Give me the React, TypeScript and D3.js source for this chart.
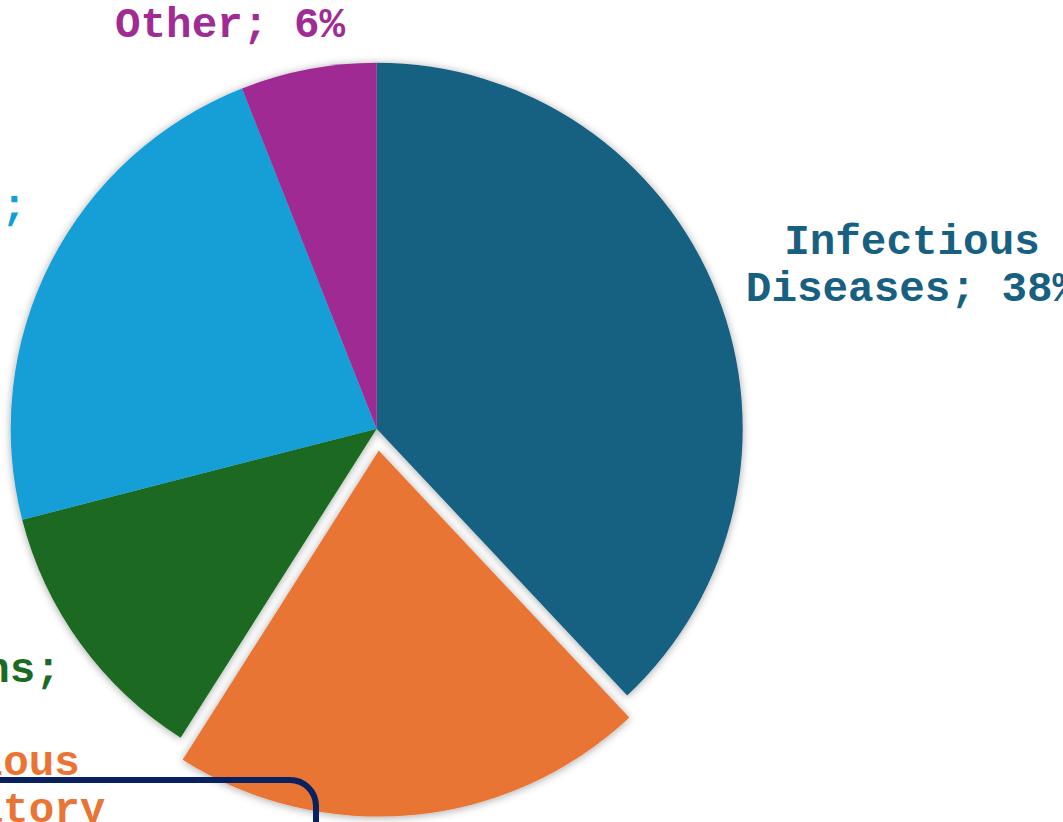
import React from "react";
import * as d3 from "d3";

const categories = ["Infectious Diseases", "Contagious Inflammatory", "Chronic Conditions", "Cardiovascular Diseases", "Other"];
const values = [38, 21, 12, 23, 6];
const colors = ["#176082", "#E97434", "#1B6B24", "#129FD6", "#A02C93"];
const labelLines = [
  ["Infectious", "Diseases; 38%"],
  ["Contagious", "Inflammatory", "Disease; 21%"],
  ["Chronic Conditions;", "12%"],
  ["Cardiovascular Diseases;", "23%"],
  ["Other; 6%"],
];
const explodedIndex = 1;

// label anchor layout (center x, first baseline y)
const labelPos = [
  [912, 254],
  [-48, 775],
  [-182, 682],
  [-280, 219],
  [230, 37],
];

export default function App() {
  const W = 1063, H = 822;
  const cx = 376.7, cy = 428.7, R = 366;
  const pie = d3.pie<number>().sort(null).startAngle(0).endAngle(2 * Math.PI);
  const arcs = pie(values);
  const arc = d3.arc<d3.PieArcDatum<number>>().innerRadius(0).outerRadius(R);
  const explode = 22;
  const fs = 42.6;
  const lh = 47;
  return (
    <div style={{ position: "absolute", left: 0, top: 0, width: W, height: H, overflow: "hidden", background: "#fff" }}>
      <svg width={W} height={H} style={{ display: "block" }}>
        <defs>
          <filter id="sh" x="-20%" y="-20%" width="140%" height="140%">
            <feDropShadow dx="0" dy="1" stdDeviation="4" floodColor="#000" floodOpacity="0.35" />
          </filter>
        </defs>
        <g transform={`translate(${cx},${cy})`}>
          <g filter="url(#sh)">
            {arcs.map((a, i) =>
              i === explodedIndex ? null : <path key={i} d={arc(a) as string} fill={colors[i]} />
            )}
          </g>
          {arcs.map((a, i) => {
            if (i !== explodedIndex) return null;
            const mid = (a.startAngle + a.endAngle) / 2;
            const dx = Math.sin(mid) * explode;
            const dy = -Math.cos(mid) * explode;
            return (
              <g key={i} filter="url(#sh)" transform={`translate(${dx},${dy})`}>
                <path d={arc(a) as string} fill={colors[i]} />
              </g>
            );
          })}
        </g>
        {labelLines.map((lines, i) => (
          <text
            key={i}
            textAnchor="middle"
            fontFamily="'Liberation Mono', 'Courier New', monospace"
            fontWeight="bold"
            fontSize={fs}
            fill={colors[i]}
          >
            {lines.map((l, j) => (
              <tspan key={j} x={labelPos[i][0]} y={labelPos[i][1] + j * lh} style={{ whiteSpace: "pre" }}>
                {l}
              </tspan>
            ))}
          </text>
        ))}
        <rect x={-60} y={780} width={376} height={200} rx={26} ry={26} fill="none" stroke="#0A2160" strokeWidth={6} />
      </svg>
    </div>
  );
}
